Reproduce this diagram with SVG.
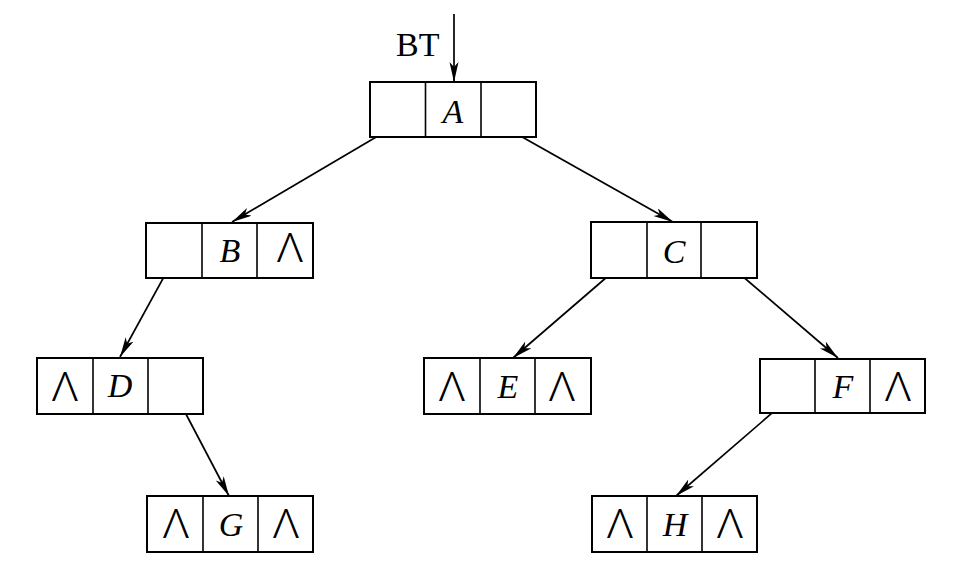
<svg xmlns="http://www.w3.org/2000/svg" width="956" height="581" viewBox="0 0 956 581">
<style>
.box{fill:#fff;stroke:#000;stroke-width:2}
.div{stroke:#000;stroke-width:1.6}
.lbl{font-family:"Liberation Serif",serif;font-style:italic;font-size:34px;text-anchor:middle}
.nil{font-family:"Noto Sans",sans-serif;font-weight:300;font-size:41px;text-anchor:middle}
.bt{font-family:"Liberation Serif",serif;font-size:34px}
.edge{stroke:#000;stroke-width:1.7;fill:none;marker-end:url(#ah)}
</style>
<defs>
<marker id="ah" markerUnits="userSpaceOnUse" markerWidth="22" markerHeight="10" refX="20" refY="4.5" orient="auto">
<path d="M0,0 L20,4.5 L0,9 L5,4.5 Z" fill="#000"/>
</marker>
</defs>
<rect width="956" height="581" fill="#fff"/>
<g id="connectors">
<line class="edge" x1="454" y1="14" x2="454" y2="82"/>
<line class="edge" x1="400" y1="123" x2="232" y2="222"/>
<line class="edge" x1="501" y1="125" x2="673" y2="222"/>
<line class="edge" x1="177" y1="253" x2="120" y2="357"/>
<line class="edge" x1="177" y1="397" x2="229" y2="496"/>
<line class="edge" x1="622" y1="264" x2="513" y2="358"/>
<line class="edge" x1="734" y1="269" x2="838" y2="358"/>
<line class="edge" x1="786" y1="401" x2="676" y2="496"/>
</g>
<text class="bt" x="396" y="56">BT</text>
<g id="nodeA">
<rect class="box" x="370" y="82" width="166" height="55"/>
<line class="div" x1="425.5" y1="82" x2="425.5" y2="137"/>
<line class="div" x1="481" y1="82" x2="481" y2="137"/>
<text class="lbl" x="453" y="123">A</text>
</g>
<g id="nodeB">
<rect class="box" x="146" y="223" width="167" height="55"/>
<line class="div" x1="202" y1="223" x2="202" y2="278"/>
<line class="div" x1="257" y1="223" x2="257" y2="278"/>
<text class="lbl" x="230" y="262">B</text>
<text class="nil" transform="translate(290,262) scale(1.08,1)">Λ</text>
</g>
<g id="nodeC">
<rect class="box" x="591" y="222" width="166" height="56"/>
<line class="div" x1="647" y1="222" x2="647" y2="278"/>
<line class="div" x1="701" y1="222" x2="701" y2="278"/>
<text class="lbl" x="674" y="263">C</text>
</g>
<g id="nodeD">
<rect class="box" x="37" y="358" width="166" height="56"/>
<line class="div" x1="93" y1="358" x2="93" y2="414"/>
<line class="div" x1="148" y1="358" x2="148" y2="414"/>
<text class="nil" transform="translate(65,401) scale(1.08,1)">Λ</text>
<text class="lbl" x="120" y="397">D</text>
</g>
<g id="nodeE">
<rect class="box" x="424" y="358" width="167" height="56"/>
<line class="div" x1="480" y1="358" x2="480" y2="414"/>
<line class="div" x1="535" y1="358" x2="535" y2="414"/>
<text class="nil" transform="translate(452,401) scale(1.08,1)">Λ</text>
<text class="lbl" x="508" y="398">E</text>
<text class="nil" transform="translate(562,401) scale(1.08,1)">Λ</text>
</g>
<g id="nodeF">
<rect class="box" x="760" y="359" width="165" height="54"/>
<line class="div" x1="815" y1="359" x2="815" y2="413"/>
<line class="div" x1="870" y1="359" x2="870" y2="413"/>
<text class="lbl" x="843" y="398">F</text>
<text class="nil" transform="translate(898,401) scale(1.08,1)">Λ</text>
</g>
<g id="nodeG">
<rect class="box" x="147" y="496" width="166" height="56"/>
<line class="div" x1="203" y1="496" x2="203" y2="552"/>
<line class="div" x1="258" y1="496" x2="258" y2="552"/>
<text class="nil" transform="translate(176,538) scale(1.08,1)">Λ</text>
<text class="lbl" x="231" y="536">G</text>
<text class="nil" transform="translate(286,538) scale(1.08,1)">Λ</text>
</g>
<g id="nodeH">
<rect class="box" x="592" y="496" width="165" height="56"/>
<line class="div" x1="647" y1="496" x2="647" y2="552"/>
<line class="div" x1="702" y1="496" x2="702" y2="552"/>
<text class="nil" transform="translate(620,538) scale(1.08,1)">Λ</text>
<text class="lbl" x="675" y="536">H</text>
<text class="nil" transform="translate(730,538) scale(1.08,1)">Λ</text>
</g>
</svg>
